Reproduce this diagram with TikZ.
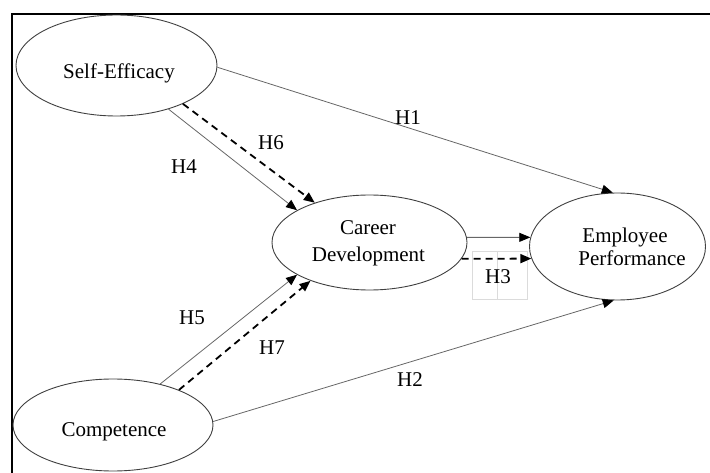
\documentclass[tikz,border=0pt]{standalone}
\usepackage{fontspec}
\setmainfont{Liberation Serif}
\usetikzlibrary{shapes.geometric,arrows.meta}
\begin{document}
\begin{tikzpicture}[x=1pt,y=-1pt,
  oval/.style={draw=black!75, line width=0.9pt, ellipse, inner sep=0pt},
  txt/.style={font=\fontsize{21}{25}\selectfont, inner sep=0pt, anchor=base},
  hyp/.style={font=\fontsize{21}{25}\selectfont, inner sep=0pt},
  tip/.style={-{Triangle[length=11pt,width=9pt,color=black]}},
  solidarr/.style={draw=black!60, line width=0.8pt, tip},
  dasharr/.style={draw=black, line width=1.8pt, dash pattern=on 7pt off 5pt, tip},
  ghost/.style={draw=black!14, line width=1pt},
]
\useasboundingbox (0,0) rectangle (710,473);
% frame
\draw[line width=2pt] (12,473) -- (12,14) -- (710,14);

% ellipses
\node[oval, minimum width=201pt, minimum height=101pt] (se) at (116.5,65.5) {};
\node[oval, minimum width=195pt, minimum height=95pt] (cd) at (369.5,242.5) {};
\node[oval, minimum width=176pt, minimum height=107pt] (ep) at (617.5,246.5) {};
\node[oval, minimum width=200pt, minimum height=92pt] (co) at (113,425) {};

% texts
\node[txt] (set) at (119,79) {Self-Efficacy};
\node[txt] (cdt1) at (368,235) {Career};
\node[txt] (cdt2) at (368.5,262) {Development};
\node[txt] (ept1) at (625,243) {Employee};
\node[txt] (ept2) at (632,266) {Performance};
\node[txt] (cot) at (114,436) {Competence};

% faint boxes behind H3
\draw[ghost] (472,252) rectangle (527,300);
\draw[ghost] (497,252) -- (497,300);

% connectors
\draw[solidarr] (se.-1) -- (ep.95);
\draw[solidarr] (se.-40) -- (cd.156);
\draw[dasharr] (se.-30) -- (cd.144);
\draw[solidarr] (co.41) -- (cd.204);
\draw[dasharr] (co.28) -- (cd.213);
\draw[solidarr] (co.2) -- (ep.266);
\draw[solidarr] (cd.3) -- (ep.174);
\draw[dasharr] (cd.-10) -- (ep.188);

% labels
\node[hyp] (h1) at (408,118) {H1};
\node[hyp] (h2) at (410,380) {H2};
\node[hyp] (h3) at (498,277) {H3};
\node[hyp] (h4) at (184,167) {H4};
\node[hyp] (h5) at (192,318) {H5};
\node[hyp] (h6) at (271,143) {H6};
\node[hyp] (h7) at (272,348) {H7};
\end{tikzpicture}
\end{document}
